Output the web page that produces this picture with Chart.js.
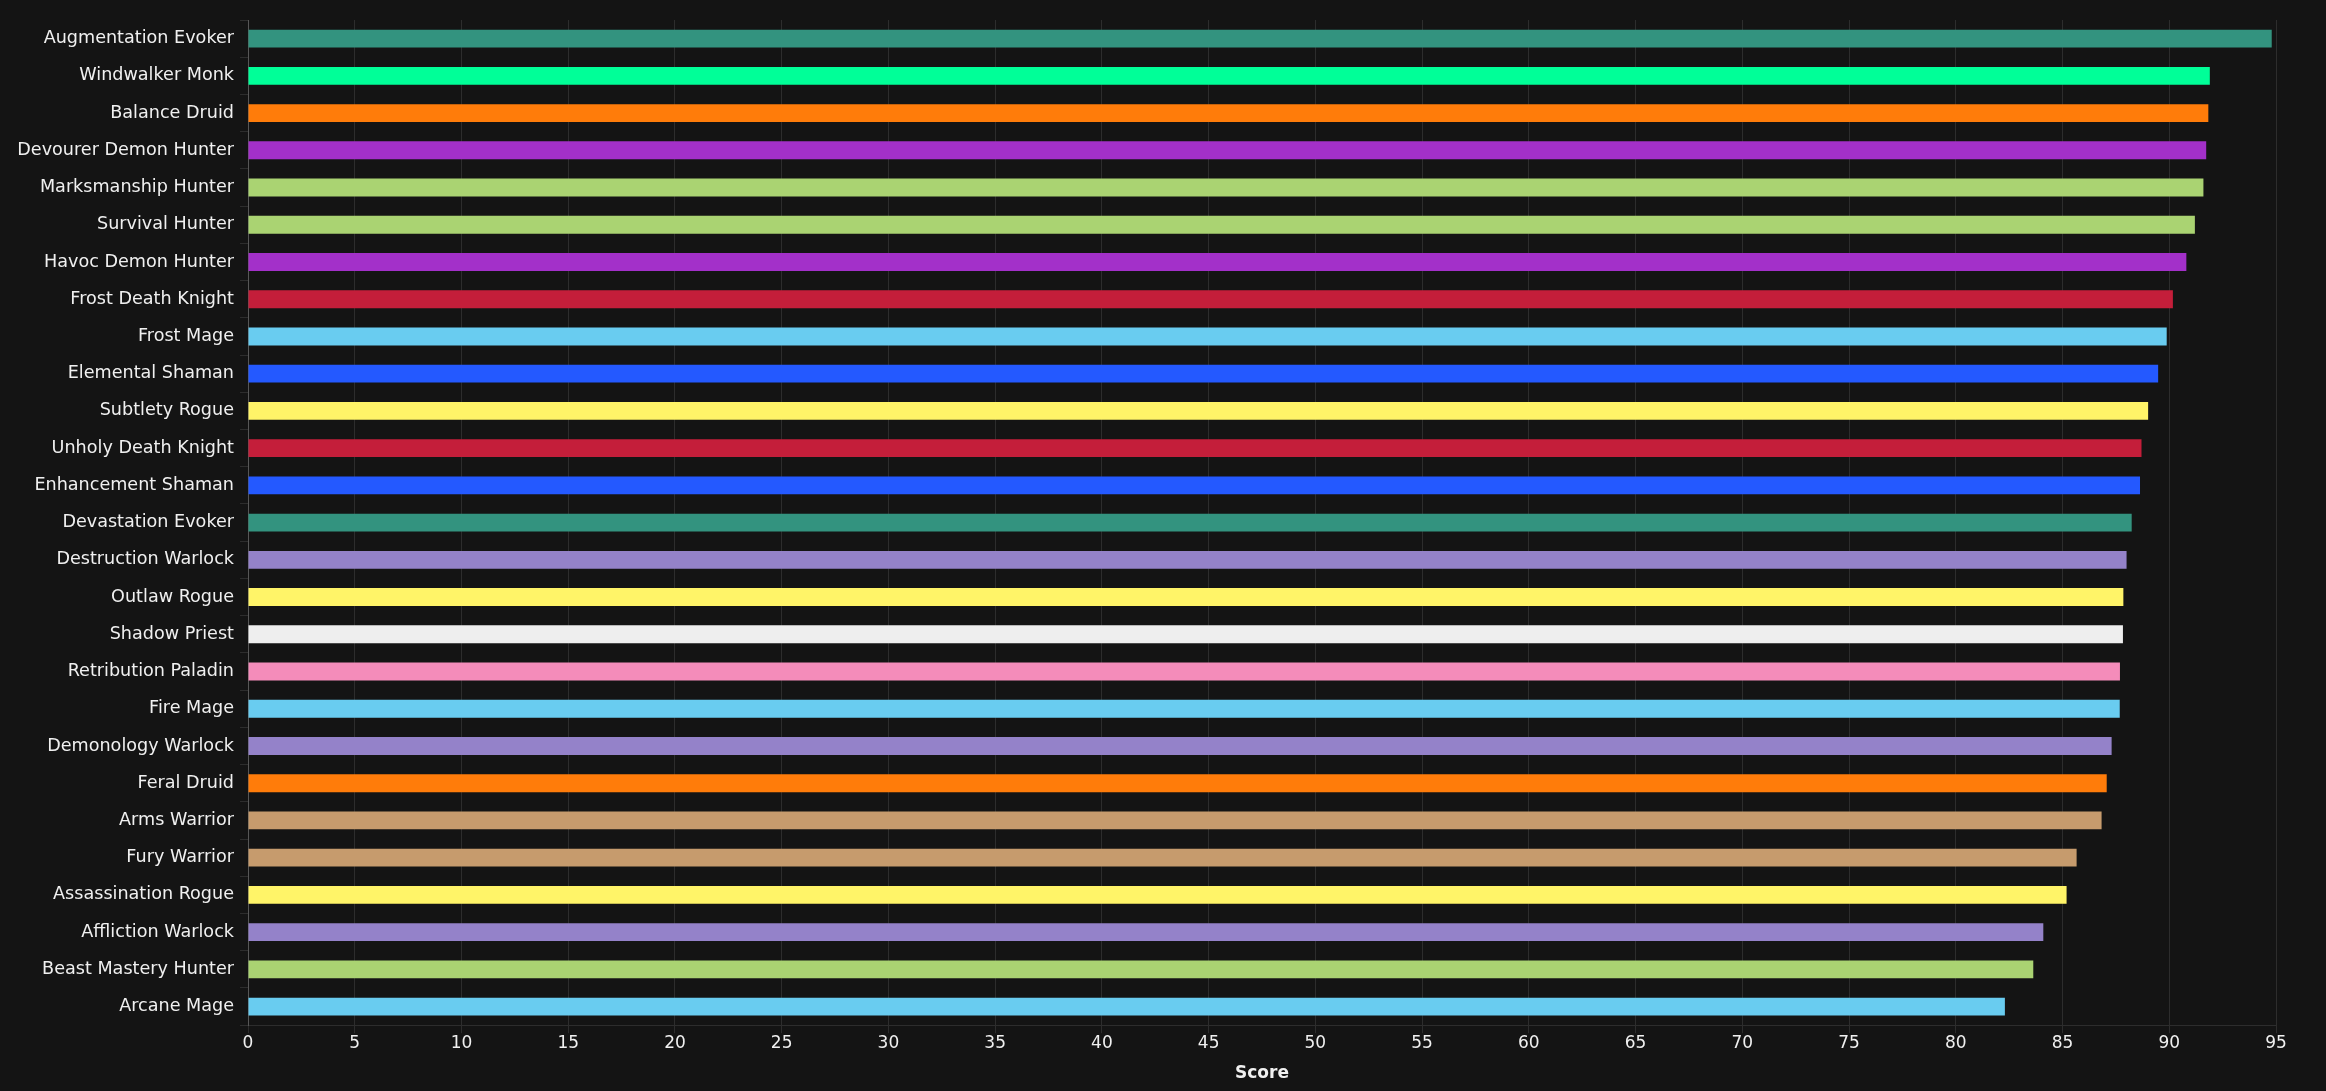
<!DOCTYPE html>
<html>
<head>
<meta charset="utf-8">
<title>Score</title>
<script src="https://cdn.jsdelivr.net/npm/chart.js@4/dist/chart.umd.min.js"></script>
<style>
    html, body { margin: 0; padding: 0; background: #141414; }
    #wrap { width: 2326px; height: 1091px; }
</style>
</head>
<body>
<div id="wrap"><canvas id="grafico"></canvas></div>
<script>
const specs = [
    'Augmentation Evoker', 'Windwalker Monk', 'Balance Druid', 'Devourer Demon Hunter',
    'Marksmanship Hunter', 'Survival Hunter', 'Havoc Demon Hunter', 'Frost Death Knight',
    'Frost Mage', 'Elemental Shaman', 'Subtlety Rogue', 'Unholy Death Knight',
    'Enhancement Shaman', 'Devastation Evoker', 'Destruction Warlock', 'Outlaw Rogue',
    'Shadow Priest', 'Retribution Paladin', 'Fire Mage', 'Demonology Warlock',
    'Feral Druid', 'Arms Warrior', 'Fury Warrior', 'Assassination Rogue',
    'Affliction Warlock', 'Beast Mastery Hunter', 'Arcane Mage'
];

const scores = [
    94.8, 91.9, 91.83, 91.73,
    91.6, 91.2, 90.8, 90.17,
    89.88, 89.48, 89.01, 88.7,
    88.63, 88.24, 88.0, 87.85,
    87.83, 87.69, 87.68, 87.3,
    87.07, 86.83, 85.66, 85.19,
    84.1, 83.63, 82.3
];

const classColors = {
    evoker: '#33937F', monk: '#00FF98', druid: '#FF7C0A', dh: '#A330C9',
    hunter: '#AAD372', dk: '#C41E3A', mage: '#69CCF0', shaman: '#2459FF',
    rogue: '#FFF468', warlock: '#9482C9', priest: '#EEEEEE', paladin: '#F48CBA',
    warrior: '#C69B6D'
};

const specClass = [
    'evoker', 'monk', 'druid', 'dh',
    'hunter', 'hunter', 'dh', 'dk',
    'mage', 'shaman', 'rogue', 'dk',
    'shaman', 'evoker', 'warlock', 'rogue',
    'priest', 'paladin', 'mage', 'warlock',
    'druid', 'warrior', 'warrior', 'rogue',
    'warlock', 'hunter', 'mage'
];

const xTicks = [0, 5, 10, 15, 20, 25, 30, 35, 40, 45, 50, 55, 60, 65, 70, 75, 80, 85, 90, 95];

const colorTexto = '#f0f0f0';
const colorGrid = 'rgba(255,255,255,0.11)';

const ctx = document.getElementById('grafico').getContext('2d');
const myChart = new Chart(ctx, {
    type: 'bar',
    data: {
        labels: specs,
        datasets: [{
            label: 'Score',
            data: scores,
            backgroundColor: specClass.map(c => classColors[c]),
            borderWidth: 0,
            categoryPercentage: 0.8,
            barPercentage: 0.6
        }]
    },
    options: {
        indexAxis: 'y',
        responsive: true,
        maintainAspectRatio: false,
        animation: false,
        devicePixelRatio: 1,
        layout: { padding: { top: 20, right: 50, bottom: 3, left: 0 } },
        plugins: {
            legend: { display: false },
            tooltip: { enabled: false }
        },
        scales: {
            x: {
                min: 0,
                max: 95,
                afterBuildTicks: axis => { axis.ticks = xTicks.map(v => ({ value: v })); },
                ticks: { color: colorTexto, font: { family: 'DejaVu Sans', size: 17 }, padding: 0, maxRotation: 0 },
                grid: { color: colorGrid, tickLength: 8 },
                border: { color: colorGrid },
                title: {
                    display: true,
                    text: 'Score',
                    color: colorTexto,
                    font: { family: 'DejaVu Sans', size: 17, weight: 'bold' },
                    padding: { top: 10, bottom: 4 }
                }
            },
            y: {
                afterFit: axis => { axis.width = 248; },
                ticks: { color: colorTexto, font: { family: 'DejaVu Sans', size: 17.6 }, padding: 6 },
                grid: { color: colorGrid, drawOnChartArea: false, tickLength: 8 },
                border: { color: 'rgba(255,255,255,0.2)' }
            }
        }
    }
});
</script>
</body>
</html>
